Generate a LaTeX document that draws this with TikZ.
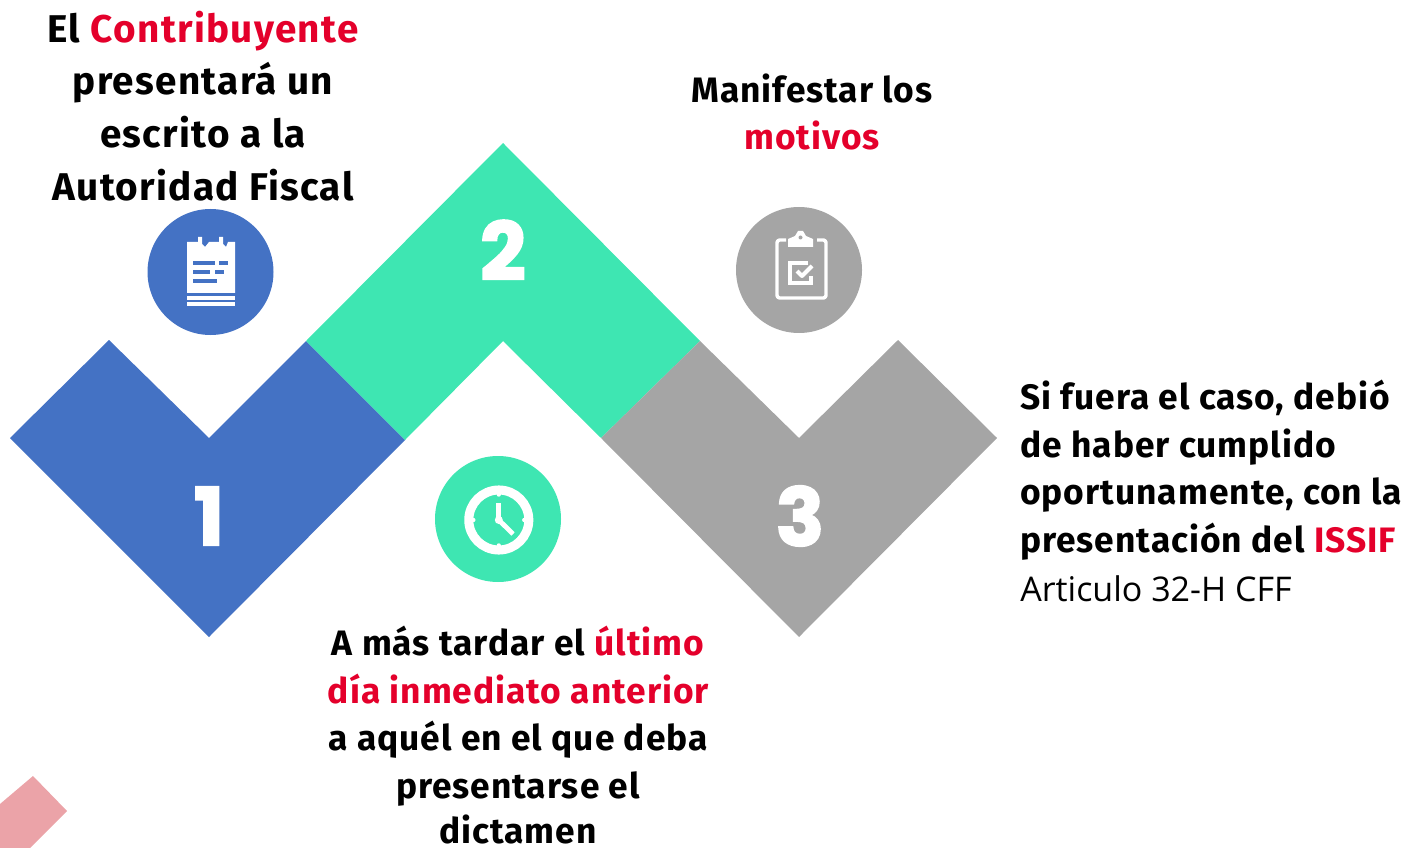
\documentclass[tikz,border=0pt]{standalone}
\usepackage{fontspec}
\setmainfont{Fira Sans}
\newfontfamily\lightfont{Open Sans}
\newfontfamily\tightfont[LetterSpace=2.8]{Fira Sans}
\newfontfamily\wideFont[LetterSpace=3.4]{Fira Sans}
\newfontfamily\digitfont[BoldFeatures={FakeBold=2.5}]{Poppins}
\definecolor{cblue}{HTML}{4472C4}
\definecolor{cgreen}{HTML}{3EE6B2}
\definecolor{cgray}{HTML}{A5A5A5}
\definecolor{cred}{HTML}{E4002B}
\definecolor{cpink}{HTML}{EBA3A8}
\newcommand{\rd}[1]{\textcolor{cred}{#1}}
\tikzset{
 txt/.style={inner sep=0pt,anchor=base,font=\fontsize{26.5}{26.5}\selectfont\tightfont\bfseries,text=black,align=center},
 bigtxt/.style={inner sep=0pt,anchor=base,font=\fontsize{29}{29}\selectfont\wideFont\bfseries,text=black,align=center},
 digit/.style={inner sep=0pt,font=\fontsize{60}{60}\selectfont\digitfont\bfseries,text=white},
 badge/.style={circle,minimum size=94.5pt,inner sep=0pt},
 ico/.style={draw=white,line width=2.6pt,line join=round}
}
\begin{document}
\begin{tikzpicture}[x=0.75pt,y=-0.75pt]
\useasboundingbox (0,0) rectangle (1412,848);
% watermark fragment
\fill[cpink] (33,776) -- (67,811) -- (30,848) -- (0,848) -- (0,804) -- cycle;
% chevrons
\fill[cblue] (10,438) -- (109,340) -- (209,438) -- (306,341) -- (405,440) -- (209,637) -- cycle;
\fill[cgreen] (306,341) -- (503,143) -- (700,341) -- (601,438) -- (503,341) -- (405,440) -- cycle;
\fill[cgray] (700,341) -- (601,438) -- (799,637) -- (997,438) -- (898,340) -- (799,438) -- cycle;
% digits
\node[digit] (d1) at (209,516) {1};
\node[digit] (d2) at (503,250) {2};
\node[digit] (d3) at (800,516) {3};
% badges
\node[badge,fill=cblue] (b1) at (210.5,272) {};
\node[badge,fill=cgray] (b2) at (799,270) {};
\node[badge,fill=cgreen] (b3) at (498,519) {};
% icon 1: notepad
\fill[white] (187,242) -- (198,242) -- (198,237) -- (202,237) -- (202,244) -- (205,247) -- (209,242) -- (219,242) -- (219,237) -- (223,237) -- (223,244) -- (226,247) -- (228,242) -- (235,242) -- (235,293) -- (187,293) -- cycle;
\fill[white] (187,296) rectangle (235,300);
\fill[white] (187,302) rectangle (235,306);
\fill[cblue] (193,261) rectangle (215,265);
\fill[cblue] (219,261) rectangle (228,265);
\fill[cblue] (193,270) rectangle (210,274);
\fill[cblue] (215,270) rectangle (224,274);
\fill[cblue] (193,279) rectangle (217,283);
% icon 2: clipboard
\draw[ico,rounded corners=2pt] (786,240) -- (777,240) -- (777,298) -- (826,298) -- (826,240) -- (817,240);
\fill[white] (788,247) -- (788,239) -- (795,236) -- (798,231) -- (803,231) -- (806,236) -- (813,239) -- (813,247) -- cycle;
\fill[cgray] (800.5,237.5) circle (2);
\draw[ico,line width=3.4pt,line join=miter] (808,263) -- (790,263) -- (790,283) -- (811,283) -- (811,276);
\draw[ico,line width=3pt] (797,271) -- (802,276) -- (812,266);
% icon 3: clock
\draw[white,line width=6.8pt] (498.8,520) circle (30);
\foreach \a in {0,90,180,270}{
  \fill[white] (498.8,520) ++(\a:25.5) circle (2.2);
}
\fill[white] (498.8,520) circle (4);
\draw[white,line width=3.6pt] (498.8,520) -- (498.8,503);
\draw[white,line width=3.6pt] (498.8,520) -- (513,534);
% text
\node[bigtxt] (t1) at (203,43) {El \rd{Contribuyente}};
\node[bigtxt] (t1b) at (203,95) {presentará un};
\node[bigtxt] (t1c) at (203,148) {escrito a la};
\node[bigtxt] (t1d) at (203,201) {Autoridad Fiscal};
\node[txt] (t2) at (812,103) {Manifestar los};
\node[txt] (t2b) at (812,150) {\rd{motivos}};
\node[txt,anchor=base west] (t3) at (1020,409) {Si fuera el caso, debió};
\node[txt,anchor=base west] (t3b) at (1020,457) {de haber cumplido};
\node[txt,anchor=base west] (t3c) at (1020,504) {oportunamente, con la};
\node[txt,anchor=base west] (t3d) at (1020,552) {presentación del \rd{ISSIF}};
\node[txt,anchor=base west,font=\fontsize{25.5}{26}\selectfont\lightfont] (t3e) at (1020,601) {Articulo 32-H CFF};
\node[txt] (t4) at (518,655) {A más tardar el \rd{último}};
\node[txt] (t4b) at (518,703) {\rd{día inmediato anterior}};
\node[txt] (t4c) at (518,750) {a aquél en el que deba};
\node[txt] (t4d) at (518,798) {presentarse el};
\node[txt] (t4e) at (518,843) {dictamen};
\end{tikzpicture}
\end{document}
